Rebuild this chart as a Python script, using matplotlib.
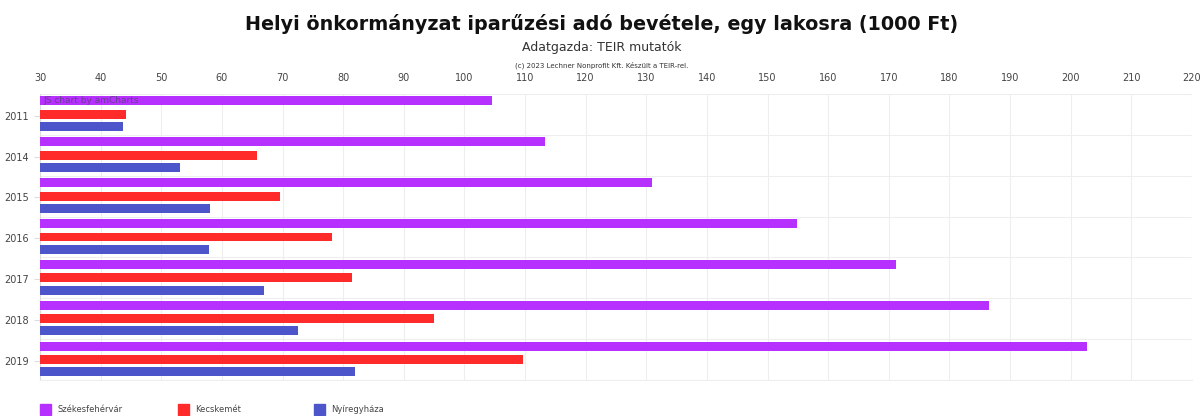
import matplotlib.pyplot as plt
import numpy as np

plt.rcParams["font.family"] = "DejaVu Sans"

# adatok (1000 Ft / lakos)
years = ["2011", "2014", "2015", "2016", "2017", "2018", "2019"]
szekesfehervar = [104.6, 113.3, 131.0, 154.8, 171.1, 186.6, 202.6]
kecskemet = [44.2, 65.8, 69.6, 78.2, 81.5, 95.0, 109.7]
nyiregyhaza = [43.7, 53.1, 58.1, 57.9, 67.0, 72.6, 82.0]
series_names = ["Székesfehérvár", "Kecskemét", "Nyíregyháza"]
xticks = list(range(30, 221, 10))

colors = ["#b630ff", "#ff2b2b", "#4c55c9"]

fig = plt.figure(figsize=(12.04, 4.16), dpi=100)
ax = fig.add_axes([40 / 1204, 1 - 380 / 416, (1192 - 40) / 1204, (380 - 94) / 416])

y = np.arange(len(years))
h = 0.22
offs = [-0.33, 0.0, 0.3]
for vals, off, c in zip([szekesfehervar, kecskemet, nyiregyhaza], offs, colors):
    ax.barh(y + off, np.array(vals) - 30, left=30, height=h, color=c, zorder=3)

ax.set_xlim(30, 220)
ax.set_ylim(len(years) - 0.5, -0.5)
ax.set_xticks(xticks)
ax.xaxis.tick_top()
ax.tick_params(axis="x", length=0, labelsize=7, colors="#444444", pad=8)
ax.set_yticks(y + 0.03)
ax.set_yticklabels(years)
ax.tick_params(axis="y", length=4, labelsize=7, colors="#dddddd", labelcolor="#444444", pad=4)
ax.set_yticks(np.arange(len(years) + 1) - 0.5, minor=True)
ax.tick_params(axis="y", which="minor", length=0)
ax.grid(True, axis="x", color="#eeeeee", lw=0.8, zorder=0)
ax.grid(True, axis="y", which="minor", color="#eeeeee", lw=0.8, zorder=0)
for s in ["top", "right"]:
    ax.spines[s].set_visible(False)
ax.spines["left"].set_color("#dddddd")
ax.spines["bottom"].set_color("#eeeeee")

ax.text(30.5, -0.33, "JS chart by amCharts", fontsize=6.5, color="#6a3d8f",
        va="center", ha="left", zorder=4)

fig.text(0.5, 1 - 24 / 416, "Helyi önkormányzat iparűzési adó bevétele, egy lakosra (1000 Ft)",
         ha="center", va="center", fontsize=13.8, fontweight="bold", color="#111111")
fig.text(0.5, 1 - 48 / 416, "Adatgazda: TEIR mutatók", ha="center", va="center",
         fontsize=9, color="#333333")
fig.text(0.5, 1 - 65 / 416, "(c) 2023 Lechner Nonprofit Kft. Készült a TEIR-rel.",
         ha="center", va="center", fontsize=5, color="#333333")

# jelmagyarázat
leg_x = [40, 178, 314]
for name, c, lx in zip(series_names, colors, leg_x):
    fig.patches.append(plt.Rectangle((lx / 1204, 1 - 415 / 416), 11 / 1204, 11 / 416,
                                     transform=fig.transFigure, color=c))
    fig.text((lx + 17) / 1204, 1 - 410 / 416, name, fontsize=6, color="#444444",
             va="center", ha="left")

plt.savefig("out.png", dpi=100)
